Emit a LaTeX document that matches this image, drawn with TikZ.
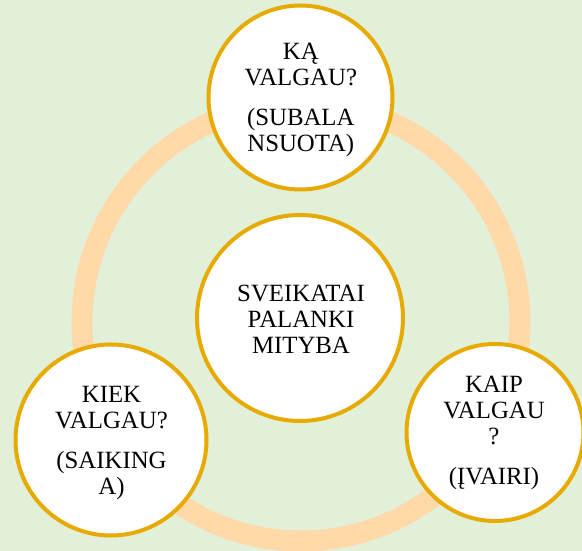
\documentclass[tikz,border=0pt]{standalone}
\usepackage{fontspec}
\setmainfont{Liberation Serif}
\definecolor{bg}{RGB}{226,239,217}
\definecolor{ring}{RGB}{255,217,168}
\definecolor{gold}{RGB}{230,170,0}
\tikzset{
  bubble/.style={circle, draw=gold, line width=4pt, fill=white, inner sep=0pt},
  txt/.style={anchor=base, inner sep=0pt, font=\fontsize{24.8}{25.8}\selectfont}
}
\newcommand{\cell}[1]{\renewcommand{\arraystretch}{1}\setlength{\tabcolsep}{0pt}\begin{tabular}[t]{c}#1\end{tabular}}
\begin{document}
\begin{tikzpicture}[x=1pt,y=1pt]
\path[fill=bg] (0,0) rectangle (582,551);
\useasboundingbox (0,0) rectangle (582,551);
\coordinate (rc) at (301,229);
\draw[ring, line width=21pt] (rc) circle[radius=219];
\node[bubble, minimum size=184pt] (top) at (300.5,453.5) {};
\node[bubble, minimum size=206pt] (mid) at (300,233) {};
\node[bubble, minimum size=191pt] (bl) at (111,111) {};
\node[bubble, minimum size=177pt] (br) at (495,118.5) {};
\node[txt] (ttop) at (300.8,491) {\cell{KĄ\\VALGAU?\\[14pt](SUBALA\\NSUOTA)}};
\node[txt] (tmid) at (301,249.3) {\cell{SVEIKATAI\\PALANKI\\MITYBA}};
\node[txt] (tbl) at (111.5,148.3) {\cell{KIEK\\VALGAU?\\[14pt](SAIKING\\A)}};
\node[txt] (tbr) at (494,158) {\cell{KAIP\\VALGAU\\?\\[14pt](ĮVAIRI)}};
\end{tikzpicture}
\end{document}
